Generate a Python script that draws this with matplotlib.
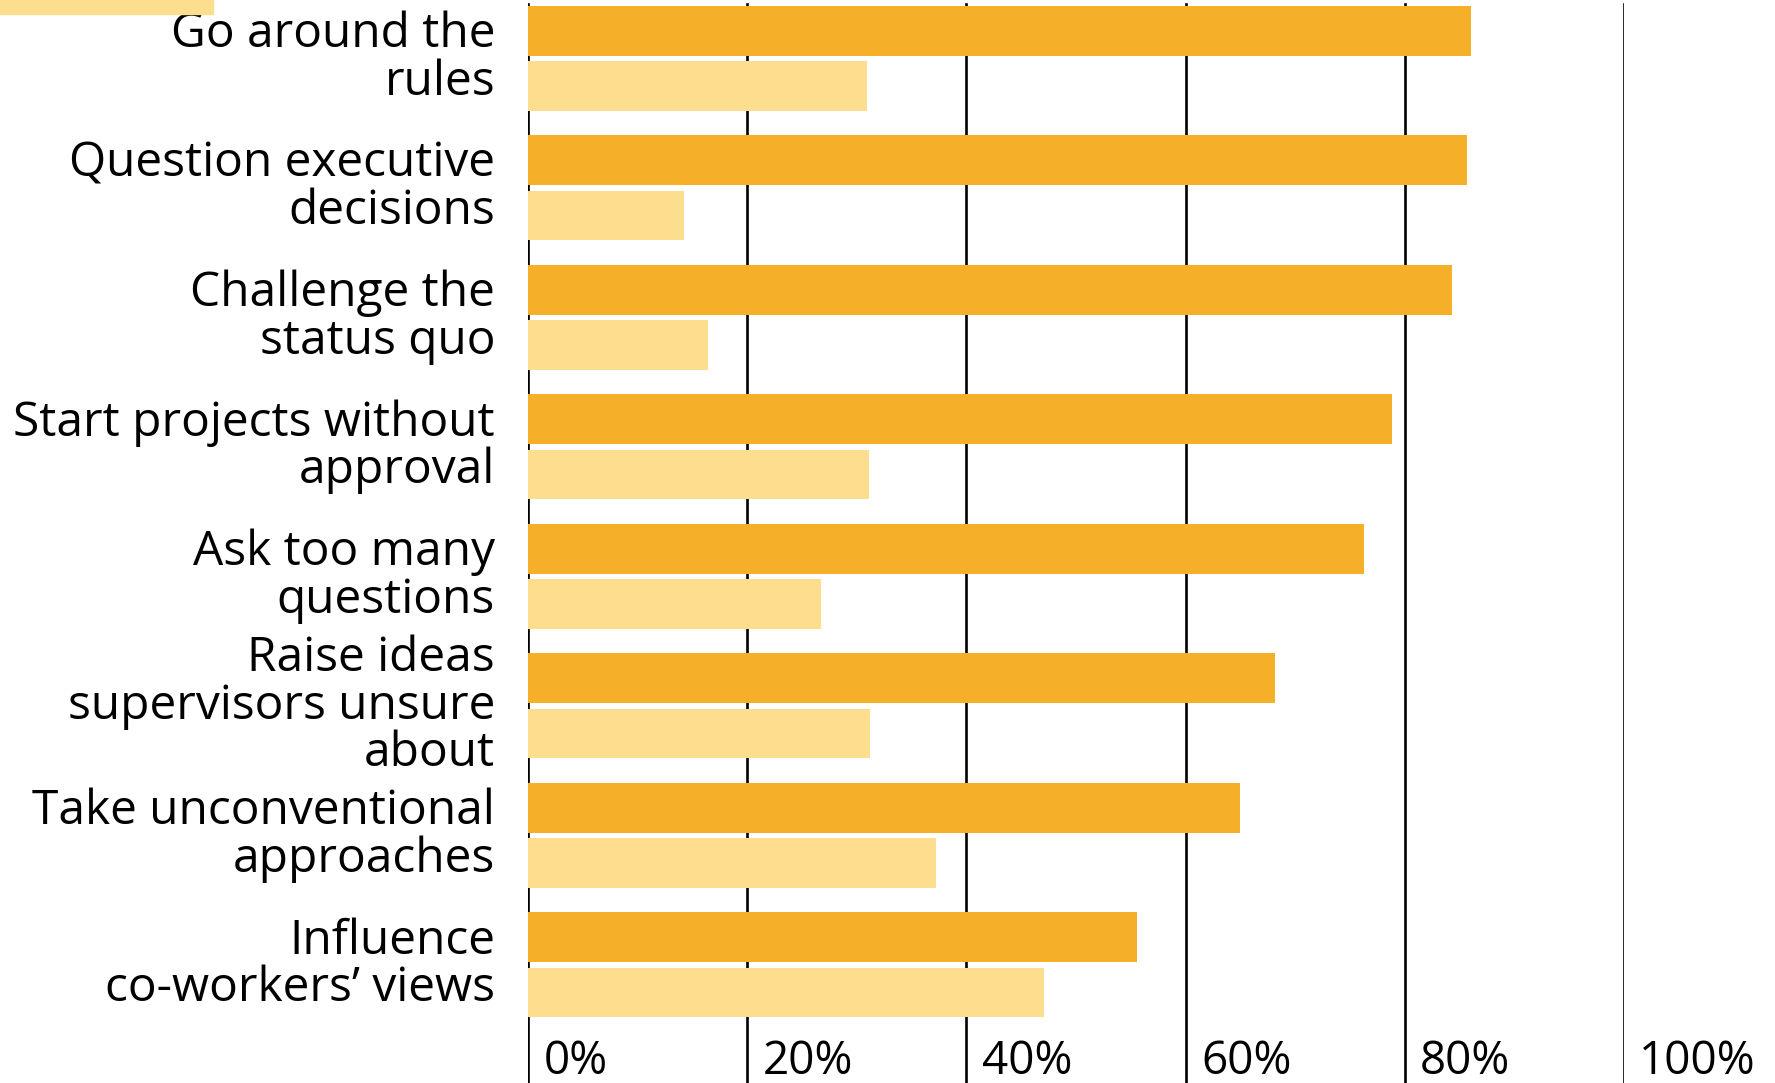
import matplotlib
matplotlib.use("Agg")
import matplotlib.pyplot as plt
from matplotlib.patches import Rectangle
from matplotlib.transforms import blended_transform_factory

# Survey behaviours and the share of respondents (two groups) per behaviour
categories = [
    "Go around the\nrules",
    "Question executive\ndecisions",
    "Challenge the\nstatus quo",
    "Start projects without\napproval",
    "Ask too many\nquestions",
    "Raise ideas\nsupervisors unsure\nabout",
    "Take unconventional\napproaches",
    "Influence\nco-workers’ views",
]
dark_values = [86.0, 85.7, 84.3, 78.8, 76.3, 68.2, 65.0, 55.6]
light_values = [30.9, 14.2, 16.4, 31.1, 26.7, 31.2, 37.2, 47.1]
tick_values = [0, 20, 40, 60, 80, 100]
tick_labels = ["0%", "20%", "40%", "60%", "80%", "100%"]

DARK = "#F6AF28"
LIGHT = "#FDDD8E"

plt.rcParams["font.family"] = ["Open Sans", "DejaVu Sans"]

W, H = 1775, 1083
fig = plt.figure(figsize=(W / 100, H / 100), dpi=100)
fig.patch.set_facecolor("white")

left_px, right_px = 528, 1624
ax = fig.add_axes([left_px / W, 0, (right_px - left_px) / W, 1])
ax.set_xlim(0, 100)
first_px, step_px = 58.3, 129.5
ax.set_ylim((H - first_px) / step_px, -first_px / step_px)
ax.axis("off")

# vertical reference lines
for v in tick_values:
    ax.axvline(v, ymin=0, ymax=1 - 4 / H, color="black", lw=1.9, zorder=0)

bar_h = 0.385
off = 0.214
for i, (d, l) in enumerate(zip(dark_values, light_values)):
    ax.barh(i - off, d, height=bar_h, color=DARK, zorder=2, linewidth=0)
    ax.barh(i + off, l, height=bar_h, color=LIGHT, zorder=2, linewidth=0)

# category labels to the left of the bars
lab_tr = blended_transform_factory(fig.transFigure, ax.transData)
for i, name in enumerate(categories):
    ax.text(495 / W, i, name, transform=lab_tr, ha="right", va="center",
            fontsize=34.5, linespacing=1.0, color="black")

# percentage labels along the bottom
tick_tr = blended_transform_factory(ax.transData, fig.transFigure)
for v, t in zip(tick_values, tick_labels):
    ax.annotate(t, xy=(v, 9 / H), xycoords=tick_tr, xytext=(11, 0),
                textcoords="offset points", ha="left", va="baseline",
                fontsize=33, color="black")

# legend key swatch at the top-left edge
fig.patches.append(Rectangle((0, 1 - 14 / H), 213 / W, 14 / H,
                             transform=fig.transFigure, color=LIGHT, zorder=5))

fig.savefig("out.png", dpi=100)
